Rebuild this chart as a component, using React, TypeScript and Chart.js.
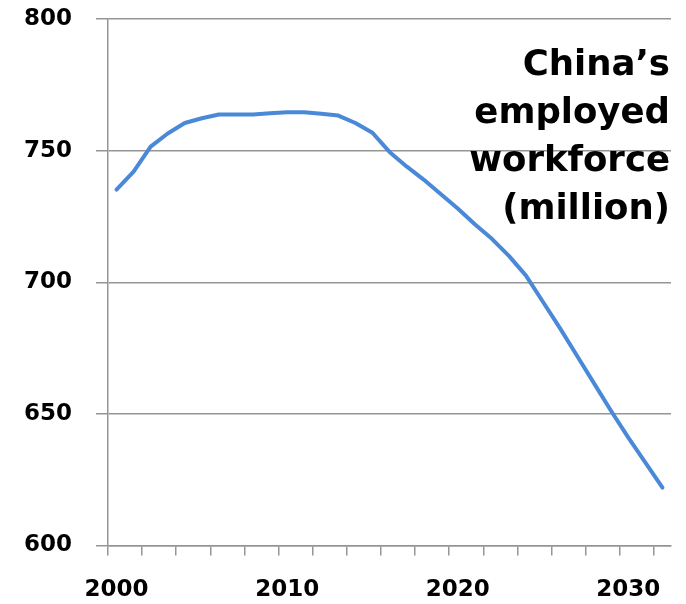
import React, { useEffect, useRef } from "react";
import { Chart, registerables } from "chart.js";

Chart.register(...registerables);

// Categories (years)
const years = [
  "2000", "2001", "2002", "2003", "2004", "2005", "2006", "2007", "2008", "2009",
  "2010", "2011", "2012", "2013", "2014", "2015", "2016", "2017", "2018", "2019",
  "2020", "2021", "2022", "2023", "2024", "2025", "2026", "2027", "2028", "2029",
  "2030", "2031", "2032",
];

// China's employed workforce (million)
const workforce = [
  735.2, 742.0, 751.5, 756.5, 760.5, 762.3, 763.7, 763.7, 763.7, 764.2,
  764.6, 764.6, 764.0, 763.3, 760.5, 756.8, 749.5, 744.0, 739.0, 733.5,
  728.0, 722.0, 716.5, 710.0, 702.5, 692.5, 682.5, 672.0, 661.5, 651.0,
  641.0, 631.5, 622.0,
];

const yTicks = [600, 650, 700, 750, 800];
const xLabelYears = ["2000", "2010", "2020", "2030"];
const titleLines = ["China\u2019s", "employed", "workforce", "(million)"];

const GRID = "#959595";
const LINE = "#4A88D8";
const FONT = "'DejaVu Sans', Verdana, sans-serif";

export default function App() {
  const canvasRef = useRef<HTMLCanvasElement | null>(null);

  useEffect(() => {
    const canvas = canvasRef.current;
    if (!canvas) return;
    const chart = new Chart(canvas, {
      type: "line",
      data: {
        labels: years,
        datasets: [
          {
            data: workforce,
            borderColor: LINE,
            backgroundColor: LINE,
            borderWidth: 4,
            pointRadius: 0,
            tension: 0,
            borderJoinStyle: "round",
            borderCapStyle: "round",
          },
        ],
      },
      options: {
        responsive: false,
        animation: false,
        devicePixelRatio: 1,
        layout: { padding: { top: 19, right: 15, left: 0, bottom: 0 } },
        plugins: {
          legend: { display: false },
          tooltip: { enabled: false },
          title: { display: false },
        },
        scales: {
          x: {
            type: "category",
            offset: true,
            grid: {
              offset: true,
              drawOnChartArea: false,
              drawTicks: true,
              tickLength: 10,
              lineWidth: 1.5,
              color: (ctx: any) =>
                typeof ctx.index === "number" && ctx.index % 2 === 0 ? GRID : "rgba(0,0,0,0)",
              tickColor: (ctx: any) =>
                typeof ctx.index === "number" && ctx.index % 2 === 0 ? GRID : "rgba(0,0,0,0)",
            },
            border: { display: true, color: GRID, width: 1.5 },
            ticks: {
              autoSkip: false,
              maxRotation: 0,
              minRotation: 0,
              padding: 21,
              color: "#000",
              font: { family: FONT, size: 23, weight: "bold" },
              callback: (_v: any, index: number) =>
                xLabelYears.includes(years[index]) ? years[index] : "",
            },
            afterFit: (scale: any) => {
              scale.height = 58.5;
              scale.paddingLeft = 0;
              scale.paddingRight = 0;
            },
          },
          y: {
            min: 600,
            max: 800,
            grid: {
              color: GRID,
              lineWidth: 1.5,
              drawTicks: true,
              tickLength: 12,
            },
            border: { display: true, color: GRID, width: 1.5 },
            ticks: {
              padding: 24,
              color: "#000",
              font: { family: FONT, size: 23, weight: "bold" },
            },
            afterBuildTicks: (scale: any) => {
              scale.ticks = yTicks.map((v) => ({ value: v }));
            },
            afterFit: (scale: any) => {
              scale.width = 108;
              scale.paddingTop = 0;
              scale.paddingBottom = 0;
            },
          },
        },
      },
    });
    return () => chart.destroy();
  }, []);

  return (
    <div
      style={{
        position: "absolute",
        left: 0,
        top: 0,
        width: 686,
        height: 604,
        background: "#fff",
      }}
    >
      <canvas ref={canvasRef} width={686} height={604} style={{ display: "block" }} />
      <div
        style={{
          position: "absolute",
          right: 16,
          top: 39,
          textAlign: "right",
          fontFamily: FONT,
          fontWeight: "bold",
          fontSize: "35.5px",
          lineHeight: "48px",
          color: "#000",
          whiteSpace: "nowrap",
        }}
      >
        {titleLines.map((t) => (
          <div key={t}>{t}</div>
        ))}
      </div>
    </div>
  );
}
